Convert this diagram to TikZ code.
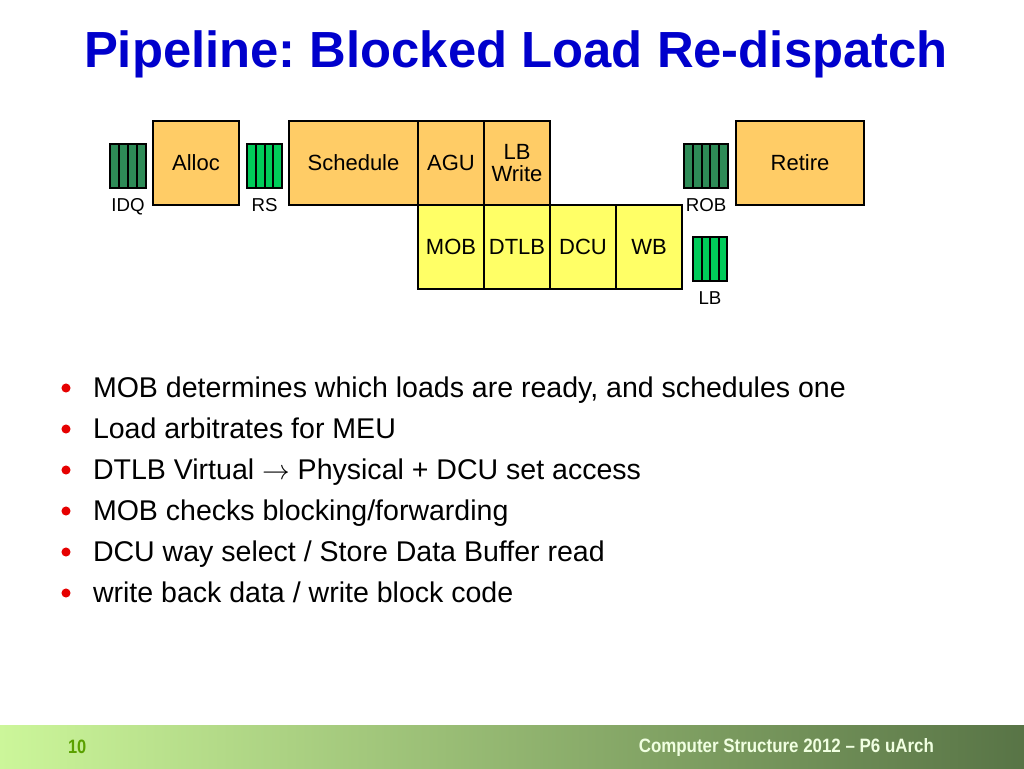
\documentclass[tikz,border=0pt]{standalone}
\usepackage{fontspec}
\setmainfont{Liberation Sans}
\usepackage{graphicx}
\usetikzlibrary{positioning,calc}
\definecolor{titleblue}{RGB}{0,0,204}
\definecolor{stageorange}{RGB}{255,204,102}
\definecolor{stageyellow}{RGB}{255,255,102}
\definecolor{qdark}{RGB}{46,139,87}
\definecolor{qlight}{RGB}{0,204,90}
\definecolor{bulletred}{RGB}{230,0,0}
\definecolor{footlight}{RGB}{204,246,154}
\definecolor{footdark}{RGB}{88,116,70}
\definecolor{pagegreen}{RGB}{90,160,0}
\definecolor{foottext}{RGB}{240,255,225}
\frenchspacing
\tikzset{every node/.style={font=\fontsize{16.5}{18}\selectfont, inner sep=0pt, outer sep=0pt},
  stage/.style={draw, line width=1.5pt, minimum height=63pt, align=center},
  buf/.style={draw, line width=1.2pt, minimum height=33pt},
  buflabel/.style={font=\fontsize{14}{15}\selectfont, below=8pt of #1},
  item/.style={anchor=base west, font=\fontsize{21.4}{23}\selectfont}}
\newcommand{\buffer}[6]
{\node[buf, fill=#5, minimum width=#3*0.75pt] (#1) at #2 {};
  \foreach \i in {2,...,#4}
    \draw[line width=1.5pt] ($(#1.south west)!{(\i-1)/#4}!(#1.south east)$)
      -- ($(#1.north west)!{(\i-1)/#4}!(#1.north east)$);
  \node[buflabel=#1] (#1-label) {#6};}

\begin{document}
\begin{tikzpicture}[x=0.75pt,y=-0.75pt]
  \useasboundingbox (0,0) rectangle (1024,768);
  \node[anchor=base west, text=titleblue, font=\fontsize{38.1}{42}\selectfont\bfseries]
    (title) at (84,67) {Pipeline: Blocked Load Re-dispatch};
  % pipeline stages
  \node[stage, fill=stageorange, minimum width=64.5pt] (alloc) at (196,163) {Alloc};
  \node[stage, fill=stageorange, minimum width=96.75pt] (sched) at (353.5,163) {Schedule};
  \node[stage, fill=stageorange, minimum width=49.5pt, right=0pt of sched] (agu) {AGU};
  \node[stage, fill=stageorange, minimum width=49.5pt, right=0pt of agu] (lbw) {LB\\[-2pt]Write};
  \node[stage, fill=stageyellow, minimum width=49.5pt, below=0pt of agu] (mob) {MOB};
  \node[stage, fill=stageyellow, minimum width=49.5pt, right=0pt of mob] (dtlb) {DTLB};
  \node[stage, fill=stageyellow, minimum width=49.5pt, right=0pt of dtlb] (dcu) {DCU};
  \node[stage, fill=stageyellow, minimum width=49.5pt, right=0pt of dcu] (wb) {WB};
  \node[stage, fill=stageorange, minimum width=96pt] (retire) at (800,163) {Retire};
  % queues
  \buffer{idq}{(128,166)}{36}{4}{qdark}{IDQ}
  \buffer{rs}{(264.5,166)}{35}{4}{qlight}{RS}
  \buffer{rob}{(706,166)}{44}{5}{qdark}{ROB}
  \buffer{lb}{(710,259)}{34}{4}{qlight}{LB}
  % bullets
  \foreach \t [count=\k] in {{MOB determines which loads are ready, and schedules one},
      {Load arbitrates for MEU},
      {DTLB Virtual $\rightarrow$ Physical + DCU set access},
      {MOB checks blocking/forwarding},
      {DCU way select / Store Data Buffer read},
      {write back data / write block code}}
  {
    \fill[bulletred] (66,{397+41*(\k-1)-9}) circle (3.4pt);
    \node[item] (item\k) at (93,{397+41*(\k-1)}) {\t};
  }
  % footer
  \shade[left color=footlight, right color=footdark] (0,725) rectangle (1024,768);
  \node[anchor=base west, text=pagegreen, font=\fontsize{14.5}{16}\selectfont\bfseries]
    (page) at (68,753) {\scalebox{0.85}[1]{10}};
  \node[anchor=base east, text=foottext, font=\fontsize{14.5}{16}\selectfont\bfseries]
    (foot) at (934,752) {\scalebox{0.875}[1]{Computer Structure 2012 -- P6 uArch}};
\end{tikzpicture}
\end{document}
